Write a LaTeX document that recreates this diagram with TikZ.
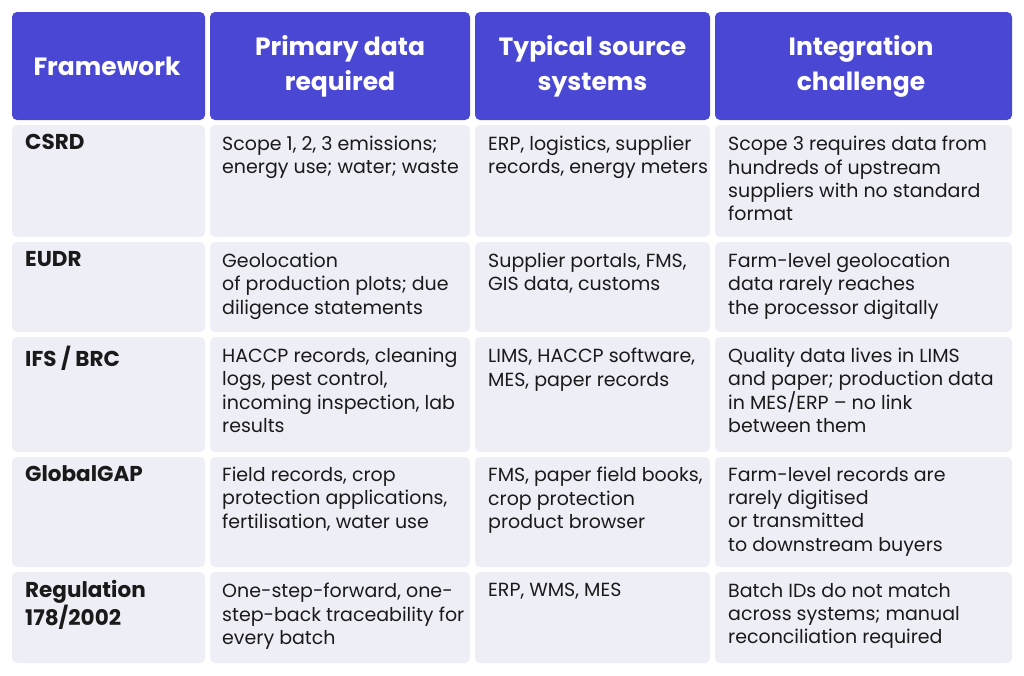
\documentclass[tikz,border=0pt]{standalone}
\usepackage{fontspec}
\setmainfont{Poppins}
\usetikzlibrary{positioning}
\definecolor{headblue}{HTML}{4A47D5}
\definecolor{cellgray}{HTML}{EEEEF7}
\definecolor{txt}{HTML}{1A1A1A}

\tikzset{
    headcell/.style={fill=headblue,rounded corners=5pt},
    bodycell/.style={fill=cellgray,rounded corners=5pt},
    headtext/.style={text=white,align=center,font=\fontsize{25}{35}\selectfont\bfseries},
    celltext/.style={anchor=north west,inner sep=0pt,align=left,text=txt,
        font=\fontsize{19}{23.3}\selectfont},
    rowhead/.style={celltext,font=\fontsize{21.5}{28}\selectfont\bfseries}
}

\begin{document}
\begin{tikzpicture}[x=1pt,y=-1pt]
    \useasboundingbox (0,0) rectangle (1024,675);
    % header
    \fill[headcell] (12,12) rectangle (205,120);
    \fill[headcell] (210,12) rectangle (470,120);
    \fill[headcell] (475,12) rectangle (710,120);
    \fill[headcell] (715,12) rectangle (1012,120);
    \node[headtext] (hframe) at (107,66) {Framework};
    \node[headtext] (hdata) at (340,66) {Primary data\\required};
    \node[headtext] (hsource) at (592.5,66) {Typical source\\systems};
    \node[headtext] (hchall) at (861,66) {Integration\\challenge};
    % body rows
    \foreach \top/\bot in {125/237,242/332,337/452,457/567,572/663}{
      \fill[bodycell] (12,\top) rectangle (205,\bot);
      \fill[bodycell] (210,\top) rectangle (470,\bot);
      \fill[bodycell] (475,\top) rectangle (710,\bot);
      \fill[bodycell] (715,\top) rectangle (1012,\bot);
    }
    % 1) CSRD
    \node[rowhead] (fcsrd) at (25,134) {CSRD};
    \node[celltext] (dcsrd) at (222,136) {Scope 1, 2, 3 emissions;\\energy use; water; waste};
    \node[celltext] (scsrd) at (488,136) {ERP, logistics, supplier\\records, energy meters};
    \node[celltext] (ccsrd) at (728,136) {Scope 3 requires data from\\hundreds of upstream\\suppliers with no standard\\format};
    % 2) EUDR
    \node[rowhead] (feudr) at (25,251) {EUDR};
    \node[celltext] (deudr) at (222,253) {Geolocation\\of production plots; due\\diligence statements};
    \node[celltext] (seudr) at (488,253) {Supplier portals, FMS,\\GIS data, customs};
    \node[celltext] (ceudr) at (728,253) {Farm-level geolocation\\data rarely reaches\\the processor digitally};
    % 3) IFS / BRC
    \node[rowhead] (fifs) at (25,346) {IFS / BRC};
    \node[celltext] (difs) at (222,348) {HACCP records, cleaning\\logs, pest control,\\incoming inspection, lab\\results};
    \node[celltext] (sifs) at (488,348) {LIMS, HACCP software,\\MES, paper records};
    \node[celltext] (cifs) at (728,348) {Quality data lives in LIMS\\and paper; production data\\in MES/ERP -- no link\\between them};
    % 4) GlobalGAP
    \node[rowhead] (fgap) at (25,465) {GlobalGAP};
    \node[celltext] (dgap) at (222,467) {Field records, crop\\protection applications,\\fertilisation, water use};
    \node[celltext] (sgap) at (488,467) {FMS, paper field books,\\crop protection\\product browser};
    \node[celltext] (cgap) at (728,467) {Farm-level records are\\rarely digitised\\or transmitted\\to downstream buyers};
    % 5) Regulation 178/2002
    \node[rowhead] (freg) at (25,580) {Regulation\\178/2002};
    \node[celltext] (dreg) at (222,583) {One-step-forward, one-\\step-back traceability for\\every batch};
    \node[celltext] (sreg) at (488,583) {ERP, WMS, MES};
    \node[celltext] (creg) at (728,583) {Batch IDs do not match\\across systems; manual\\reconciliation required};
\end{tikzpicture}
\end{document}
